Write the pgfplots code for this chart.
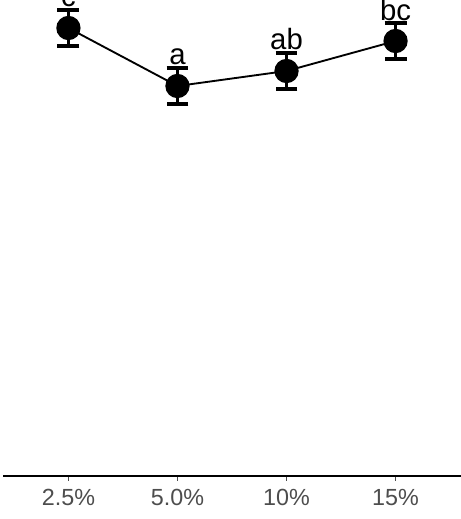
\documentclass[border=0pt]{standalone}
\usepackage{pgfplots}
\pgfplotsset{compat=1.18}
\usepackage{fontspec}
\setmainfont{Liberation Sans}
\definecolor{ticklab}{HTML}{4D4D4D}
\begin{document}
\begin{tikzpicture}[x=0.75pt,y=0.75pt]
\begin{axis}[
  scale only axis,
  width=343.5pt, height=357pt,
  xmin=-0.6, xmax=3.6,
  ymin=0, ymax=476,
  axis x line=bottom,
  axis y line=none,
  axis line style={line width=1.6pt, -},
  x axis line style={-},
  xtick={0,1,2,3},
  xticklabels={2.5\%,5.0\%,10\%,15\%},
  xtick style={line width=1.2pt, black!70},
  major tick length=3.5pt,
  tick align=outside,
  xticklabel style={font=\fontsize{17.5}{20}\selectfont, text=ticklab, yshift=-3pt},
  /pgf/number format/assume math mode=true,
]
\coordinate (tl) at (rel axis cs:0,1);
\coordinate (br) at (rel axis cs:1,0);
\addplot[black, line width=1.4pt, mark=*, mark size=8.4pt,
  error bars/.cd, y dir=both, y explicit,
  error bar style={line width=2.2pt, black},
  error mark options={rotate=90, mark size=8.2pt, line width=2.4pt}]
  table[x=x, y=y, y error=e] {
x y e
0 448 18
1 390 18
2 405 18
3 435 18
};
\addplot[draw=none, mark=none, nodes near coords, point meta=explicit symbolic,
  every node near coord/.append style={anchor=south, inner sep=0pt, yshift=2pt, font=\fontsize{22}{24}\selectfont, text=black}]
  table[x=x, y=y, meta=lab] {
x y lab
0 466 c
1 408 a
2 423 ab
3 452 bc
};
\end{axis}
\pgfresetboundingbox
\path[use as bounding box] ([xshift=-2.25pt]tl) rectangle ([yshift=-32.25pt]br);
\end{tikzpicture}
\end{document}
